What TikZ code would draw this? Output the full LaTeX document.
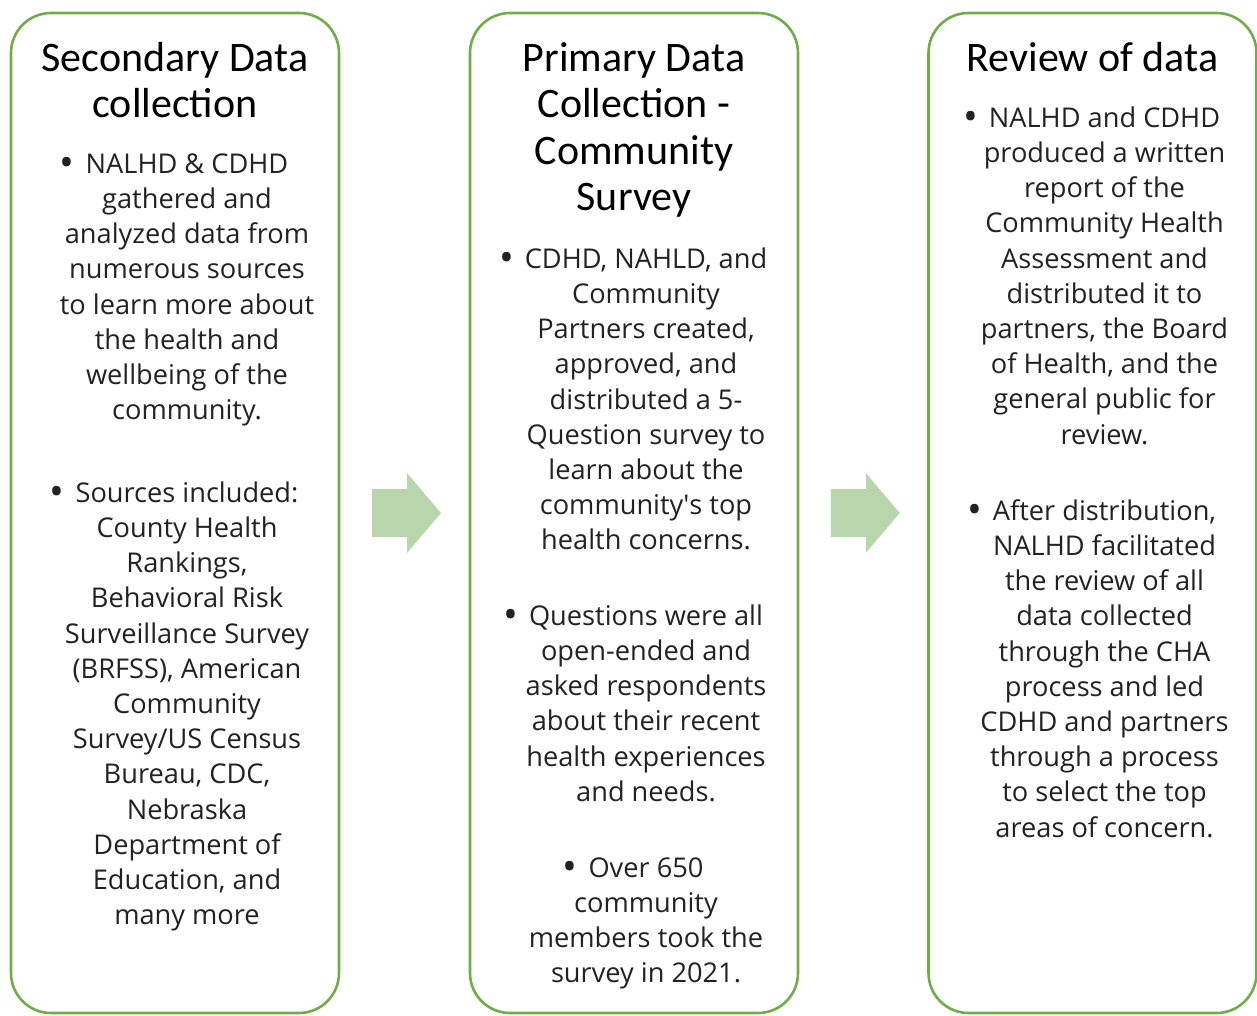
\documentclass[tikz,border=0pt]{standalone}
\usepackage{fontspec}
\usepackage{graphicx}
\setmainfont{Open Sans}
\newfontfamily\headfont{Carlito}
\usetikzlibrary{calc}

\definecolor{panelgreen}{HTML}{70AD47}
\definecolor{arrowgreen}{HTML}{B9D5AC}
\definecolor{bodyink}{HTML}{222222}

\tikzset{
  panel/.style={draw=panelgreen, line width=2.6pt, rounded corners=40pt,
    fill=white, minimum width=328pt, minimum height=1000pt, inner sep=0pt},
  heading/.style={anchor=north, align=center, inner sep=0pt,
    font=\headfont\fontsize{42}{46.5}\selectfont},
  bullets/.style={anchor=north, align=center, inner sep=0pt, text=bodyink,
    font=\fontsize{27.2}{35.2}\selectfont},
  blockarrow/.style={fill=arrowgreen, draw=none}
}
% hanging list bullet: sits left of the centred text
\newcommand{\bul}{\llap{\raisebox{-0.13em}{\scalebox{1.45}{•}}\hspace{0.4em}}}

\begin{document}
\begin{tikzpicture}[x=1pt,y=-1pt]
\useasboundingbox (0,0) rectangle (1257,1015);

% three stage panels
\node[panel] (p1) at (175,513) {};
\node[panel] (p2) at (634,513) {};
\node[panel] (p3) at (1092.5,513) {};

% block arrows between the panels
\coordinate (a1) at ($(p1.east)!0.5!(p2.west)$);
\coordinate (a2) at ($(p2.east)!0.5!(p3.west)$);
\foreach \c in {a1,a2}{
  \fill[blockarrow] ([xshift=-32.5pt,yshift=-24pt]\c) -- ([xshift=2.5pt,yshift=-24pt]\c)
    -- ([xshift=2.5pt,yshift=-40pt]\c) -- ([xshift=36.5pt]\c)
    -- ([xshift=2.5pt,yshift=40pt]\c) -- ([xshift=2.5pt,yshift=24pt]\c)
    -- ([xshift=-32.5pt,yshift=24pt]\c) -- cycle;
}

% panel 1: secondary data
\node[heading] (t1) at (175,71-32.55) {\strut Secondary Data\\collection};
\node[bullets] (b11) at (187,173-24.64) {\strut\bul NALHD \& CDHD\\gathered and\\analyzed data from\\numerous sources\\to learn more about\\the health and\\wellbeing of the\\community.};
\node[bullets] (b12) at (187,502-24.64) {\strut\bul Sources included:\\County Health\\Rankings,\\Behavioral Risk\\Surveillance Survey\\(BRFSS), American\\Community\\Survey/US Census\\Bureau, CDC,\\Nebraska\\Department of\\Education, and\\many more};

% panel 2: primary data
\node[heading] (t2) at (634,71-32.55) {\strut Primary Data\\Collection -\\Community\\Survey};
\node[bullets] (b21) at (646,268-24.64) {\strut\bul CDHD, NAHLD, and\\Community\\Partners created,\\approved, and\\distributed a 5-\\Question survey to\\learn about the\\community\textquotesingle s top\\health concerns.};
\node[bullets] (b22) at (646,625-24.64) {\strut\bul Questions were all\\open-ended and\\asked respondents\\about their recent\\health experiences\\and needs.};
\node[bullets] (b23) at (646,877-24.64) {\strut\bul Over 650\\community\\members took the\\survey in 2021.};

% panel 3: review
\node[heading] (t3) at (1092.5,71-32.55) {\strut Review of data};
\node[bullets] (b31) at (1104.5,127-24.64) {\strut\bul NALHD and CDHD\\produced a written\\report of the\\Community Health\\Assessment and\\distributed it to\\partners, the Board\\of Health, and the\\general public for\\review.};
\node[bullets] (b32) at (1104.5,520-24.64) {\strut\bul After distribution,\\NALHD facilitated\\the review of all\\data collected\\through the CHA\\process and led\\CDHD and partners\\through a process\\to select the top\\areas of concern.};
\end{tikzpicture}
\end{document}
